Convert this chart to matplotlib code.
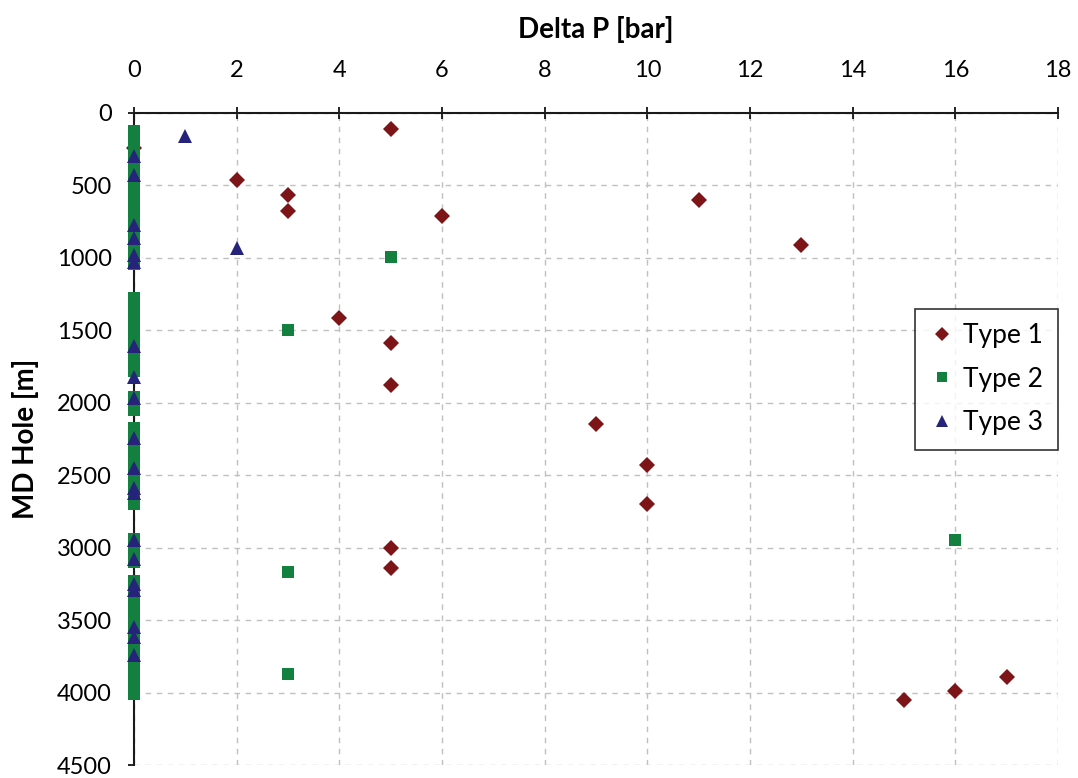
import matplotlib
matplotlib.use("Agg")
import matplotlib.pyplot as plt

plt.rcParams["font.family"] = ["Lato", "DejaVu Sans"]

# Type 1 measurements: pressure difference [bar] vs measured depth [m]
type1_dp = [5, 2, 3, 3, 6, 11, 13, 4, 5, 5, 9, 10, 10, 5, 5, 17, 16, 15, 0]
type1_md = [110, 460, 563, 680, 708, 598, 914, 1415, 1587, 1876, 2150, 2432,
            2700, 3002, 3140, 3895, 3991, 4053, 240]

# Type 2 measurements
type2_md_zero = [123, 165, 210, 255, 300, 345, 390, 435, 480, 525, 570, 615,
                 660, 705, 750, 795, 840, 885, 930, 975, 1010, 1044,
                 1278, 1320, 1365, 1410, 1455, 1500, 1545, 1590, 1635, 1680,
                 1725, 1780, 1958, 2000, 2047,
                 2171, 2215, 2260, 2305, 2350, 2395, 2440, 2485, 2530, 2575,
                 2620, 2660, 2700, 2940, 2985, 3030, 3070, 3099,
                 3229, 3275, 3320, 3365, 3410, 3455, 3500, 3545, 3590, 3635,
                 3680, 3725, 3770, 3815, 3860, 3905, 3950, 3985, 4012]
type2_dp = [0] * len(type2_md_zero) + [5, 3, 16, 3, 3]
type2_md = type2_md_zero + [995, 1500, 2945, 3165, 3870]

# Type 3 measurements
type3_md_zero = [300, 425, 775, 860, 980, 1030, 1610, 1820, 1970, 2240, 2450,
                 2590, 2620, 2950, 3080, 3250, 3290, 3550, 3620, 3740]
type3_dp = [0] * len(type3_md_zero) + [1, 2]
type3_md = type3_md_zero + [158, 935]

fig = plt.figure(figsize=(10.78, 7.78), dpi=100)
ax = fig.add_axes([0.1243, 0.0167, 0.8571, 0.8381])

ax.plot(type1_dp, type1_md, linestyle="none", marker="D", markersize=8.5,
        color="#7d1418", markeredgewidth=0, label="Type 1", zorder=3)
ax.plot(type2_dp, type2_md, linestyle="none", marker="s", markersize=8,
        color="#14803f", markeredgewidth=0, label="Type 2", zorder=4)
ax.plot(type3_dp, type3_md, linestyle="none", marker="^", markersize=10.5,
        color="#25247a", markeredgewidth=0, label="Type 3", zorder=5)

ax.set_xlim(0, 18)
ax.set_ylim(4500, 0)
ax.set_xticks(range(0, 19, 2))
ax.set_yticks(range(0, 4501, 500))

ax.xaxis.set_label_position("top")
ax.xaxis.tick_top()
ax.set_xlabel("Delta P [bar]", fontsize=20, fontweight="bold", labelpad=16)
ax.set_ylabel("MD Hole [m]", fontsize=20, fontweight="bold", labelpad=13)

ax.tick_params(axis="x", direction="inout", length=8, width=1.2, pad=19,
               labelsize=17, top=True, bottom=False)
ax.tick_params(axis="y", direction="out", length=4, width=1.2, pad=12,
               labelsize=17)

for side in ["right", "bottom"]:
    ax.spines[side].set_visible(False)
for side in ["top", "left"]:
    ax.spines[side].set_linewidth(1.5)
    ax.spines[side].set_color("#1a1a1a")

ax.grid(True, color="#c0c0c0", linestyle=(0, (4, 4)), linewidth=1)
ax.set_axisbelow(True)
for line in ax.lines:
    line.set_clip_on(False)

leg = ax.legend(loc="upper right", bbox_to_anchor=(1.0, 0.70), fontsize=19,
                frameon=True, fancybox=False, edgecolor="black",
                handletextpad=0.3, borderpad=0.55, labelspacing=0.7,
                handlelength=1.0, borderaxespad=0.0, markerscale=0.85)
leg.get_frame().set_linewidth(1.2)

fig.savefig("out.png", dpi=100)
